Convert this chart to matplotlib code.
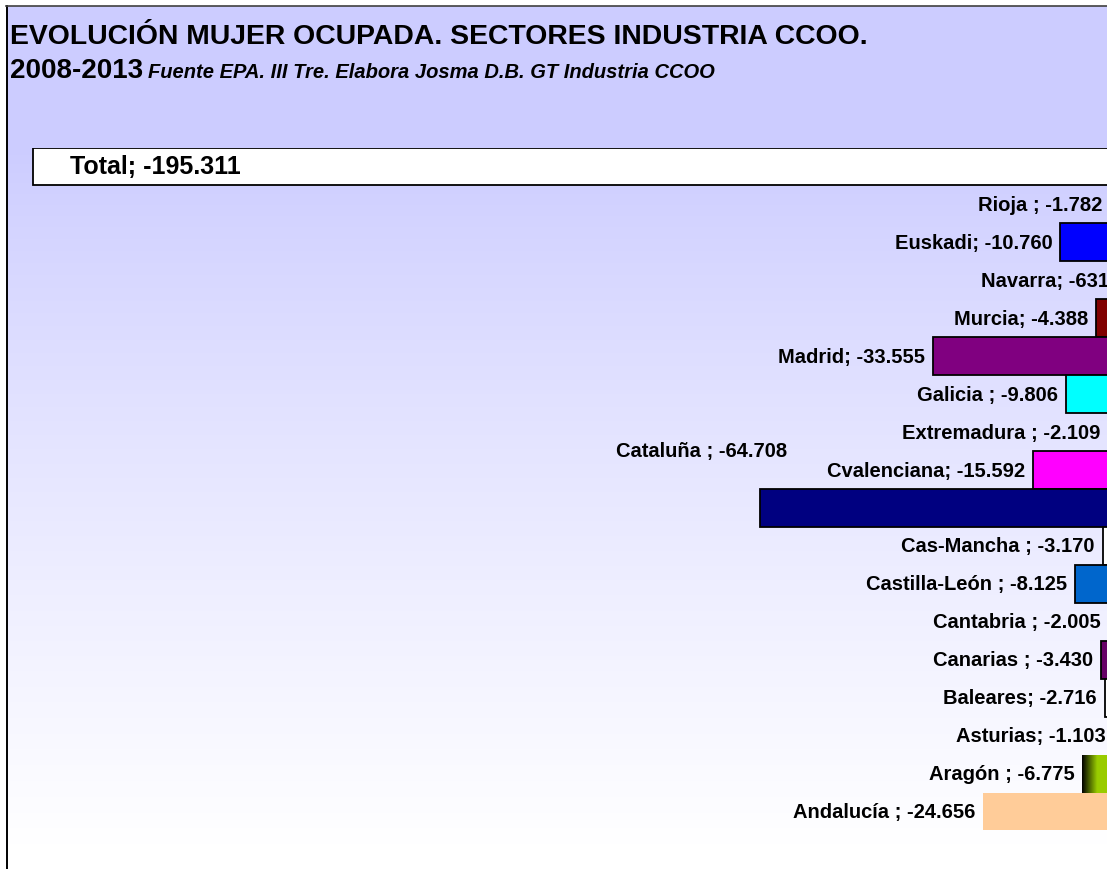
import numpy as np
import matplotlib.pyplot as plt
from matplotlib.colors import to_rgb
from matplotlib.lines import Line2D

plt.rcParams['font.family'] = ['Liberation Sans', 'DejaVu Sans']

# datos (personas), de arriba abajo
names = ["Total", "Rioja ", "Euskadi", "Navarra", "Murcia", "Madrid", "Galicia ",
         "Extremadura ", "Cvalenciana", "Cataluña ", "Cas-Mancha ", "Castilla-León ",
         "Cantabria ", "Canarias ", "Baleares", "Asturias", "Aragón ", "Andalucía "]
values = [-195311, -1782, -10760, -631, -4388, -33555, -9806,
          -2109, -15592, -64708, -3170, -8125,
          -2005, -3430, -2716, -1103, -6775, -24656]
colors = ["#FFFFFF", "#FF9900", "#0000FF", "#339966", "#800000", "#800080", "#00FFFF",
          "#FFFF00", "#FF00FF", "#000080", "#FFFFFF", "#0066CC",
          "#FF0000", "#660066", "#FFFFFF", "#993300", "#99CC00", "#FFCC99"]


def fmt(v):
    # separador de miles con punto
    return "-" + f"{abs(v):,}".replace(",", ".")


W, H = 1107, 870
fig = plt.figure(figsize=(W / 100, H / 100), dpi=100)
fig.patch.set_facecolor("white")

# fondo: lila arriba, degradado hacia blanco en el area de trazado
bg = fig.add_axes([6 / W, 0, 1 - 6 / W, 1 - 7 / H])
rows = np.arange(7, H)
lav = np.array(to_rgb("#CCCCFF"))
t = np.clip((rows - 149) / (845 - 149), 0, 1) ** 0.85
grad = lav[None, :] + (1 - lav[None, :]) * t[:, None]
bg.imshow(grad[:, None, :], aspect="auto", extent=(0, 1, 0, 1))
bg.set_axis_off()

fig.add_artist(Line2D([6.5 / W, 6.5 / W], [0, 1 - 6.5 / H], color="black", lw=1.4))
fig.add_artist(Line2D([6 / W, 1], [1 - 6.5 / H, 1 - 6.5 / H], color="#404040", lw=1.2))

# titulos
fig.text(10 / W, 1 - 44 / H, "EVOLUCIÓN MUJER OCUPADA. SECTORES INDUSTRIA CCOO.",
         fontsize=20.4, fontweight="bold", va="baseline", ha="left")
fig.text(10 / W, 1 - 78 / H, "2008-2013", fontsize=20, fontweight="bold",
         va="baseline", ha="left")
fig.text(148 / W, 1 - 78 / H, "Fuente EPA. III Tre. Elabora Josma D.B. GT Industria CCOO",
         fontsize=14.5, fontweight="bold", fontstyle="italic", va="baseline", ha="left")

# ejes: el cero queda fuera de la imagen (x = 1120 px)
x0, x1 = 7, 1120.2
y_top, step = 167.5, 37.94
ax = fig.add_axes([x0 / W, 0, (x1 - x0) / W, (H - (y_top - step / 2)) / H])
ax.patch.set_alpha(0)
ax.set_axis_off()

ypos = np.arange(len(values))
edges = ["black"] * len(values)
edges[-1] = "none"
edges[-2] = "none"
ax.barh(ypos, values, height=1.0, color=colors, edgecolor=edges, linewidth=1.3, zorder=2)

# Aragón con degradado negro -> verde
i_ar = names.index("Aragón ")
n = 200
tt = np.clip(np.linspace(0, 1, n) / 0.4, 0, 1)
g = np.array(to_rgb("#99CC00"))
ar_img = (g[None, :] * tt[:, None])[None, :, :]
ax.imshow(ar_img, aspect="auto", zorder=3,
          extent=(values[i_ar], 0, i_ar + 0.5, i_ar - 0.5))

ax.set_xlim(-200000, 0)
ax.set_ylim((H - y_top) / step, -0.5)

pt = 0.72  # px -> pt a 100 dpi
for i, (nm, v) in enumerate(zip(names, values)):
    lab = f"{nm}; {fmt(v)}"
    if i == 0:
        ax.annotate(lab, xy=(v, i), xytext=(37 * pt, 0), textcoords="offset points",
                    ha="left", va="center", fontsize=18, fontweight="bold", zorder=5)
    elif nm.startswith("Cataluña"):
        ax.annotate(lab, xy=(v, i), xytext=(27 * pt, 57 * pt), textcoords="offset points",
                    ha="right", va="center", fontsize=14.5, fontweight="bold", zorder=5)
    else:
        ax.annotate(lab, xy=(v, i), xytext=(-8 * pt, 0), textcoords="offset points",
                    ha="right", va="center", fontsize=14.5, fontweight="bold", zorder=5)

fig.savefig("out.png", dpi=100)
